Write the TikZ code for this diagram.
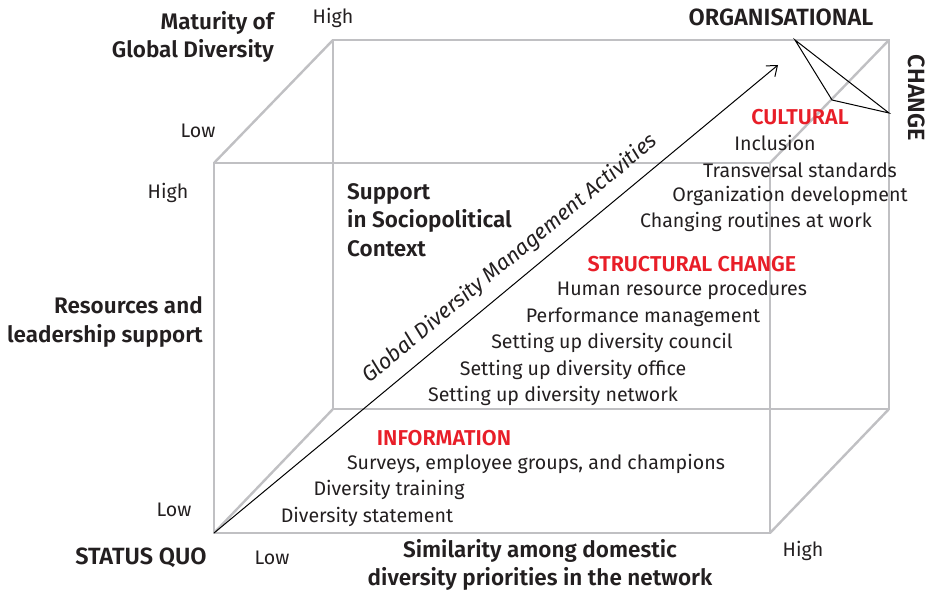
\documentclass[tikz,border=0pt]{standalone}
\usepackage{fontspec}
\setmainfont{Fira Sans}[BoldFont={Fira Sans SemiBold}, ItalicFont={Fira Sans Italic}]
\usetikzlibrary{arrows.meta}
\definecolor{cubegray}{RGB}{192,192,195}
\definecolor{hdred}{RGB}{232,30,40}
\definecolor{txt}{RGB}{35,31,32}
\begin{document}
\begin{tikzpicture}[x=1pt,y=-1pt,
  every node/.style={inner sep=0pt, text=txt},
  cube/.style={draw=cubegray, line width=2.4pt, line join=miter},
  lbl/.style={font=\fontsize{19.6}{26.5}\selectfont},
  blbl/.style={font=\fontsize{22.5}{28.5}\selectfont\bfseries},
  caplbl/.style={font=\fontsize{23.5}{28.5}\selectfont\bfseries},
  redlbl/.style={font=\fontsize{21.5}{26.5}\selectfont\bfseries, text=hdred},
  tri/.style={draw=black, line width=1pt}]
\useasboundingbox (0,0) rectangle (930,596);
% cube corners
\coordinate (FTL) at (214,163);
\coordinate (FTR) at (770,163);
\coordinate (FBR) at (770,533);
\coordinate (FBL) at (214,533);
\coordinate (BTL) at (333,40);
\coordinate (BTR) at (889,40);
\coordinate (BBR) at (889,409);
\coordinate (BBL) at (333,409);
\draw[cube] (BTL) -- (BTR) -- (BBR) -- (BBL) -- cycle;
\draw[cube] (FTL) -- (FTR) -- (FBR) -- (FBL) -- cycle;
\draw[cube] (FTL) -- (BTL);
\draw[cube] (FTR) -- (BTR);
\draw[cube] (FBR) -- (BBR);
\draw[cube] (FBL) -- (BBL);
% main arrow
\coordinate (arrEnd) at (778,65);
\draw[line width=1pt, -{Straight Barb[length=9pt,width=14pt,line width=1pt]}] (FBL) -- (arrEnd);
% triangle
\coordinate (T1) at (795,40);
\coordinate (T2) at (832,100);
\coordinate (T3) at (889,113);
\draw[tri] (T1) -- (T2) -- (T3) -- cycle;
% axis labels
\node[blbl, align=right, anchor=east] (matur) at (274,37) {Maturity of\\Global Diversity};
\node[lbl] (hiTop) at (333,18) {High};
\node[lbl] (loMat) at (198,131) {Low};
\node[lbl] (hiRes) at (168,193) {High};
\node[blbl, align=right, anchor=east] (resour) at (203,322) {Resources and\\leadership support};
\node[lbl] (loRes) at (174,510) {Low};
\node[caplbl] (status) at (141,558) {STATUS QUO};
\node[lbl] (loSim) at (272,558) {Low};
\node[blbl, align=center] (simil) at (540,565) {Similarity among domestic\\diversity priorities in the network};
\node[lbl] (hiSim) at (803,551) {High};
\node[caplbl] (orga) at (781,17) {ORGANISATIONAL};
\node[caplbl, rotate=-90] (chg) at (917,98) {CHANGE};
\node[blbl, align=left, anchor=west] (supp) at (347,220) {Support\\in Sociopolitical\\Context};
\node[lbl, font=\fontsize{21.5}{26.5}\selectfont\itshape, rotate=39.7] (gdma) at (510,259) {Global Diversity Management Activities};
% cultural
\node[redlbl] (cult) at (800,117) {CULTURAL};
\node[lbl] (c1) at (775,143) {Inclusion};
\node[lbl] (c2) at (800,170) {Transversal standards};
\node[lbl] (c3) at (790,196) {Organization development};
\node[lbl] (c4) at (756,222) {Changing routines at work};
% structural
\node[redlbl] (struc) at (692,264) {STRUCTURAL CHANGE};
\node[lbl] (s1) at (682,290) {Human resource procedures};
\node[lbl] (s2) at (643,317) {Performance management};
\node[lbl] (s3) at (612,343) {Setting up diversity council};
\node[lbl] (s4) at (573,370) {Setting up diversity office};
\node[lbl] (s5) at (553,396) {Setting up diversity network};
% information
\node[redlbl] (info) at (444,438) {INFORMATION};
\node[lbl] (i1) at (536,464) {Surveys, employee groups, and champions};
\node[lbl] (i2) at (389,490) {Diversity training};
\node[lbl] (i3) at (367,517) {Diversity statement};
\end{tikzpicture}
\end{document}
